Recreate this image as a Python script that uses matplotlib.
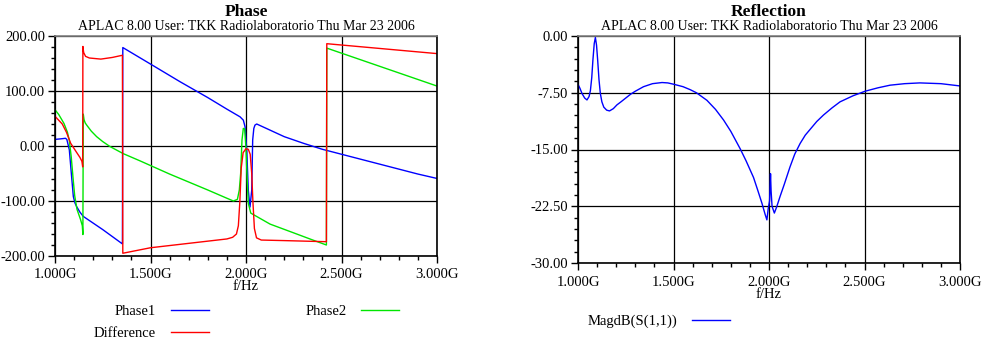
"""
plot.py
Phase / Reflection (APLAC) recreation.
"""

import matplotlib
matplotlib.use("Agg")
import matplotlib.pyplot as plt
from matplotlib.ticker import MultipleLocator, FuncFormatter

# ==============
# Data (f in GHz)
# ==============

SUBTITLE = "APLAC 8.00 User: TKK Radiolaboratorio Thu Mar 23 2006"

phase1_f = [1.000, 1.030, 1.055, 1.062, 1.075, 1.087, 1.096, 1.105, 1.113, 1.130,
            1.148, 1.250, 1.353, 1.355, 1.500, 1.654, 1.800, 1.900, 1.969, 1.986,
            1.995, 2.004, 2.012, 2.021, 2.030, 2.035, 2.041, 2.047, 2.056, 2.100,
            2.200, 2.300, 2.400, 2.500, 2.600, 2.700, 2.800, 2.900, 3.000]
phase1_v = [12, 13, 14, 12, -7, -56, -92, -104, -110, -120,
            -128, -152, -178, 179, 149, 117, 88, 67, 53, 47,
            35, -7, -80, -111, -80, 11, 32, 38, 40, 33,
            17, 5, -6, -15, -24, -33, -42, -51, -59]

phase2_f = [1.000, 1.020, 1.047, 1.065, 1.075, 1.085, 1.095, 1.103, 1.115, 1.134,
            1.143, 1.146, 1.148, 1.152, 1.158, 1.166, 1.190, 1.218, 1.250, 1.288,
            1.358, 1.445, 1.600, 1.800, 1.900, 1.934, 1.955, 1.965, 1.972, 1.979,
            1.986, 1.993, 2.000, 2.006, 2.012, 2.025, 2.126, 2.250, 2.350, 2.421,
            2.423, 3.000]
phase2_v = [66, 57, 41, 25, 10, -20, -60, -90, -115, -134,
            -145, -161, 58, 48, 42, 38, 27, 17, 8, -1,
            -14, -27, -51, -80, -95, -100, -97, -80, -50, 11,
            32, 31, -5, -60, -104, -122, -142, -158, -171, -180,
            178, 109]

diff_f = [1.000, 1.038, 1.060, 1.082, 1.110, 1.131, 1.141, 1.145, 1.146, 1.150,
          1.160, 1.180, 1.240, 1.300, 1.353, 1.355, 1.500, 1.700, 1.900, 1.930,
          1.950, 1.960, 1.968, 1.975, 1.985, 2.000, 2.012, 2.022, 2.030, 2.036,
          2.044, 2.055, 2.080, 2.200, 2.421, 2.423, 3.000]
diff_v = [54, 40, 25, 5, -10, -21, -28, -38, 181, 170,
          163, 160, 158, 161, 165, -195, -185, -177, -169, -166,
          -160, -145, -100, -40, -12, -5, -6, -15, -50, -100,
          -150, -167, -171, -172, -174, 186, 168]

s11_f = [1.000, 1.010, 1.021, 1.035, 1.047, 1.058, 1.065, 1.072, 1.078, 1.085,
         1.091, 1.097, 1.103, 1.110, 1.117, 1.125, 1.135, 1.150, 1.165, 1.185,
         1.204, 1.225, 1.250, 1.275, 1.300, 1.343, 1.390, 1.440, 1.470, 1.500,
         1.550, 1.588, 1.620, 1.675, 1.720, 1.762, 1.800, 1.849, 1.880, 1.919,
         1.940, 1.963, 1.980, 1.989, 1.996, 2.003, 2.008, 2.011, 2.016, 2.028,
         2.040, 2.058, 2.080, 2.110, 2.135, 2.163, 2.190, 2.220, 2.250, 2.285,
         2.330, 2.372, 2.440, 2.503, 2.570, 2.634, 2.710, 2.790, 2.900, 3.000]
s11_v = [-6.4, -6.9, -7.6, -8.2, -8.45, -8.0, -7.2, -5.5, -3.2, -1.0,
         -0.2, -1.2, -3.2, -5.8, -7.6, -8.7, -9.4, -9.8, -9.9, -9.6,
         -9.1, -8.7, -8.2, -7.7, -7.3, -6.7, -6.3, -6.15, -6.2, -6.37,
         -6.7, -7.1, -7.5, -8.5, -9.7, -11.1, -12.6, -14.9, -16.5, -18.7,
         -20.3, -22.1, -23.6, -24.3, -22.8, -21.8, -18.2, -20.5, -22.5, -23.4,
         -22.6, -21.2, -19.6, -17.3, -15.6, -14.2, -13.1, -12.2, -11.3, -10.45,
         -9.5, -8.7, -7.9, -7.3, -6.85, -6.5, -6.3, -6.2, -6.3, -6.6]

# ==============
# Style
# ==============

W, H = 982, 343
FONT = "Liberation Serif"
BLUE, GREEN, RED = "#0000ff", "#00e600", "#ff0000"
TICK_FS = 10.5

plt.rcParams["font.family"] = FONT
plt.rcParams["font.size"] = TICK_FS


def px_axes(fig, left, right, top, bottom):
    return fig.add_axes([left / W, 1 - bottom / H, (right - left) / W, (bottom - top) / H])


def style_axes(ax, ymin, ymax, ymajor, yminor, yfmt):
    ax.set_xlim(1.0, 3.0)
    ax.set_ylim(ymin, ymax)
    ax.xaxis.set_major_locator(MultipleLocator(0.5))
    ax.xaxis.set_minor_locator(MultipleLocator(0.1))
    ax.yaxis.set_major_locator(MultipleLocator(ymajor))
    ax.yaxis.set_minor_locator(MultipleLocator(yminor))
    ax.xaxis.set_major_formatter(FuncFormatter(lambda v, p: f"{v:.3f}G"))
    ax.yaxis.set_major_formatter(FuncFormatter(lambda v, p: yfmt.format(v)))
    ax.tick_params(which="major", direction="out", length=5, width=1, labelsize=TICK_FS, color="black")
    ax.tick_params(which="minor", direction="out", length=3, width=1, color="black")
    ax.tick_params(axis="y", pad=2)
    ax.tick_params(axis="x", pad=4)
    ax.grid(True, which="major", color="black", lw=0.9)
    ax.spines["top"].set_color("#808080")
    ax.spines["top"].set_linewidth(1.2)
    for s in ("left", "bottom", "right"):
        ax.spines[s].set_color("black")
        ax.spines[s].set_linewidth(1.2)
    ax.set_axisbelow(True)


fig = plt.figure(figsize=(W / 100, H / 100), dpi=100)

# ---- left: Phase
ax1 = px_axes(fig, 55, 437, 36, 256)
style_axes(ax1, -200, 200, 100, 20, "{:.2f}")
for gl in ax1.get_xgridlines():
    if abs(gl.get_xdata()[0] - 2.0) < 1e-9:
        gl.set_color("#808080")
        gl.set_linewidth(1.8)
l1, = ax1.plot(phase1_f, phase1_v, color=BLUE, lw=1.0)
l2, = ax1.plot(phase2_f, phase2_v, color=GREEN, lw=1.0)
l3, = ax1.plot(diff_f, diff_v, color=RED, lw=1.0)

fig.text(246 / W, 1 - 12 / H, "Phase", ha="center", va="center", fontsize=12.5, fontweight="bold")
fig.text(246 / W, 1 - 26 / H, SUBTITLE, ha="center", va="center", fontsize=10)
fig.text(246 / W, 1 - 287 / H, "f/Hz", ha="center", va="center", fontsize=TICK_FS)

fig.legend([l1, l3, l2], ["Phase1", "Difference", "Phase2"], ncol=2, markerfirst=False,
           frameon=False, loc="upper left", bbox_to_anchor=(94 / W, 1 - 305 / H),
           borderpad=0, borderaxespad=0, handlelength=2.6, handletextpad=1.0,
           columnspacing=6.65, labelspacing=0.62, fontsize=TICK_FS)

# ---- right: Reflection
ax2 = px_axes(fig, 578, 960, 36, 263)
style_axes(ax2, -30, 0, 7.5, 1.5, "{:.2f}")
l4, = ax2.plot(s11_f, s11_v, color=BLUE, lw=1.0)

fig.text(769 / W, 1 - 12 / H, "Reflection", ha="center", va="center", fontsize=12.5, fontweight="bold")
fig.text(769 / W, 1 - 26 / H, SUBTITLE, ha="center", va="center", fontsize=10)
fig.text(769 / W, 1 - 295 / H, "f/Hz", ha="center", va="center", fontsize=TICK_FS)

fig.legend([l4], ["MagdB(S(1,1))"], markerfirst=False, frameon=False, loc="upper left",
           bbox_to_anchor=(588 / W, 1 - 315 / H), borderpad=0, borderaxespad=0,
           handlelength=2.6, handletextpad=1.0, fontsize=TICK_FS)

fig.savefig("out.png", dpi=100)
